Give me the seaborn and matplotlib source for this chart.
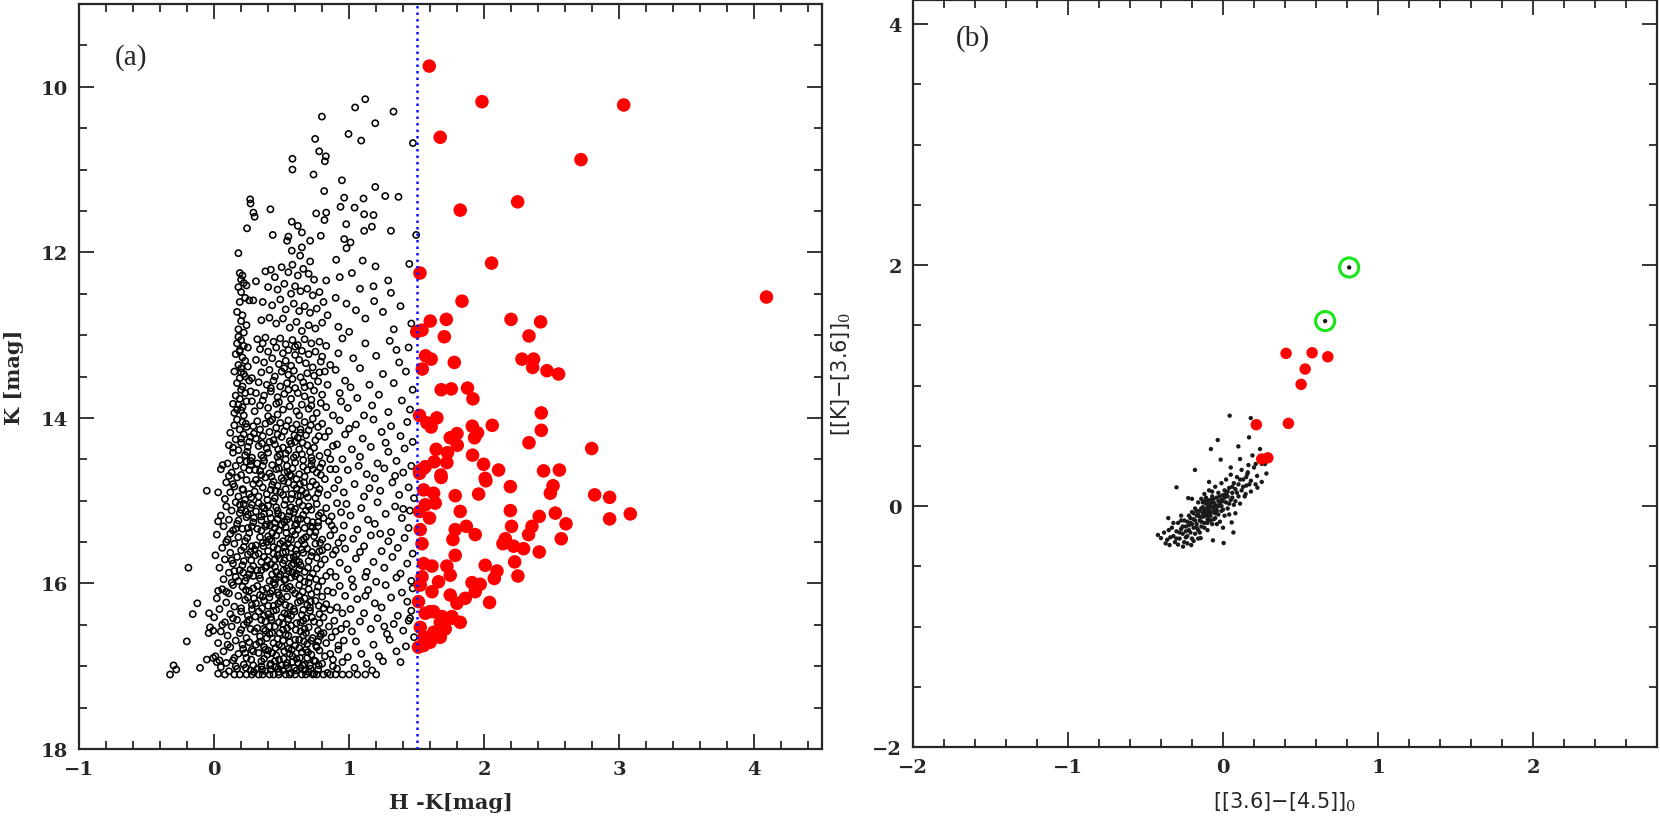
import numpy as np
import pandas as pd
import seaborn as sns
import matplotlib.pyplot as plt
from matplotlib.ticker import MultipleLocator

# ---- panel (a): H-K vs K, black field stars
field_top = [
    (1.044, 10.25), (1.119, 10.15), (1.328, 10.30), (0.798, 10.36), (1.193, 10.44), (0.995, 10.57),
    (1.089, 10.65), (1.472, 10.68), (0.748, 10.63), (0.778, 10.78), (0.827, 10.84), (0.58, 10.87),
    (0.58, 11.0), (0.82, 10.9), (0.736, 11.06), (0.946, 11.13), (0.815, 11.26), (1.193, 11.21),
    (1.106, 11.35), (0.963, 11.34), (1.267, 11.32), (1.365, 11.33), (0.267, 11.36), (0.27, 11.41),
    (0.291, 11.52), (0.30, 11.57), (0.417, 11.48), (0.244, 11.71), (0.18, 12.01), (0.936, 11.45),
    (1.04, 11.46), (1.111, 11.54), (1.18, 11.55), (0.756, 11.53), (0.83, 11.52), (0.817, 11.61),
    (0.575, 11.63), (0.62, 11.68), (0.978, 11.66), (1.111, 11.74), (1.168, 11.69), (1.309, 11.74),
    (1.496, 11.79), (0.434, 11.79), (0.54, 11.86), (0.55, 11.81), (0.65, 11.76), (0.65, 11.94),
    (0.711, 11.86), (0.79, 11.80), (0.963, 11.84), (1.01, 11.88), (0.98, 11.95), (0.575, 11.98),
    (0.637, 12.04), (0.711, 12.11), (0.904, 12.09), (1.10, 12.10), (1.195, 12.17), (1.445, 12.14),
]
field_12 = [
    (0.19, 12.25), (0.21, 12.28), (0.2, 12.33), (0.22, 12.37), (0.18, 12.42), (0.24, 12.40), (0.2, 12.48),
    (0.23, 12.55), (0.19, 12.6), (0.26, 12.58), (0.17, 12.72), (0.21, 12.76), (0.2, 12.83), (0.24, 12.88),
    (0.18, 12.93), (0.22, 12.97), (0.31, 12.35), (0.29, 12.58),
    (0.38, 12.23), (0.42, 12.21), (0.45, 12.3), (0.5, 12.18), (0.55, 12.24), (0.58, 12.15), (0.62, 12.28),
    (0.66, 12.2), (0.7, 12.26), (0.74, 12.33), (0.4, 12.42), (0.47, 12.45), (0.52, 12.38), (0.57, 12.5),
    (0.6, 12.41), (0.64, 12.47), (0.69, 12.44), (0.73, 12.52), (0.78, 12.48), (0.36, 12.6), (0.43, 12.64),
    (0.49, 12.57), (0.53, 12.69), (0.59, 12.62), (0.63, 12.71), (0.67, 12.65), (0.71, 12.73), (0.76, 12.68),
    (0.81, 12.6), (0.35, 12.82), (0.41, 12.79), (0.46, 12.86), (0.51, 12.8), (0.56, 12.91), (0.61, 12.84),
    (0.65, 12.95), (0.7, 12.88), (0.75, 12.92), (0.8, 12.85), (0.84, 12.76),
    (0.93, 12.3), (1.02, 12.25), (0.83, 12.34), (1.289, 12.34), (1.309, 12.49), (1.185, 12.59), (1.18, 12.41),
    (0.9, 12.55), (0.98, 12.62), (1.05, 12.7), (1.12, 12.8), (1.25, 12.72), (1.38, 12.65), (1.46, 12.86),
    (0.92, 12.9), (1.0, 12.96), (1.33, 12.93), (1.08, 12.44),
]
field_13 = [
    (0.18, 13.02), (0.2, 13.06), (0.17, 13.1), (0.22, 13.13), (0.19, 13.18), (0.25, 13.15), (0.16, 13.23),
    (0.21, 13.27), (0.23, 13.31), (0.18, 13.36), (0.2, 13.4), (0.15, 13.44), (0.22, 13.47), (0.19, 13.52),
    (0.26, 13.55), (0.17, 13.58), (0.21, 13.62), (0.2, 13.66), (0.23, 13.7), (0.16, 13.73), (0.19, 13.77),
    (0.24, 13.8), (0.18, 13.84), (0.21, 13.87), (0.2, 13.91), (0.15, 13.94), (0.22, 13.97), (0.27, 13.68),
    (0.25, 13.38), (0.14, 13.83),
    (0.32, 13.05), (0.38, 13.03), (0.44, 13.08), (0.49, 13.04), (0.53, 13.11), (0.58, 13.06), (0.62, 13.12),
    (0.67, 13.05), (0.72, 13.1), (0.78, 13.08), (0.83, 13.13), (0.34, 13.17), (0.4, 13.2), (0.46, 13.15),
    (0.51, 13.22), (0.55, 13.18), (0.6, 13.24), (0.65, 13.19), (0.7, 13.23), (0.75, 13.2), (0.8, 13.26),
    (0.31, 13.3), (0.37, 13.33), (0.43, 13.28), (0.48, 13.35), (0.53, 13.31), (0.57, 13.37), (0.63, 13.3),
    (0.68, 13.34), (0.73, 13.39), (0.79, 13.32), (0.86, 13.36), (0.35, 13.45), (0.41, 13.42), (0.45, 13.5),
    (0.5, 13.44), (0.55, 13.48), (0.59, 13.43), (0.64, 13.51), (0.69, 13.46), (0.74, 13.49), (0.82, 13.44),
    (0.33, 13.57), (0.39, 13.6), (0.44, 13.55), (0.49, 13.62), (0.54, 13.58), (0.6, 13.64), (0.66, 13.57),
    (0.71, 13.61), (0.77, 13.56), (0.84, 13.6), (0.31, 13.7), (0.37, 13.73), (0.42, 13.68), (0.47, 13.75),
    (0.52, 13.71), (0.57, 13.77), (0.62, 13.7), (0.67, 13.74), (0.72, 13.78), (0.8, 13.72), (0.34, 13.85),
    (0.4, 13.88), (0.46, 13.83), (0.51, 13.9), (0.56, 13.86), (0.61, 13.92), (0.65, 13.84), (0.7, 13.89),
    (0.76, 13.94), (0.83, 13.87), (0.88, 13.97),
    (0.95, 13.04), (1.12, 13.1), (1.3, 13.07), (1.44, 13.15), (0.92, 13.22), (1.03, 13.28), (1.2, 13.25),
    (1.37, 13.33), (0.9, 13.42), (1.08, 13.4), (1.25, 13.47), (1.42, 13.44), (0.97, 13.55), (1.15, 13.6),
    (1.33, 13.58), (1.47, 13.66), (0.93, 13.7), (1.06, 13.76), (1.22, 13.72), (1.39, 13.79), (0.99, 13.88),
    (1.17, 13.85), (1.29, 13.93), (1.45, 13.9), (1.01, 13.63), (1.35, 13.18), (1.11, 13.97), (0.94, 13.8),
]
field_14 = [
    (0.17, 14.02), (0.21, 14.05), (0.15, 14.09), (0.24, 14.11), (0.19, 14.14), (0.12, 14.18), (0.22, 14.2),
    (0.27, 14.23), (0.16, 14.26), (0.2, 14.3), (0.11, 14.33), (0.25, 14.35), (0.18, 14.39), (0.14, 14.42),
    (0.23, 14.45), (0.28, 14.48), (0.19, 14.51), (0.1, 14.55), (0.16, 14.58), (0.22, 14.6), (0.26, 14.63),
    (0.13, 14.66), (0.2, 14.69), (0.17, 14.72), (0.24, 14.75), (0.09, 14.78), (0.29, 14.8), (0.15, 14.83),
    (0.21, 14.86), (0.12, 14.9), (0.26, 14.92), (0.18, 14.95), (0.08, 14.98), (0.23, 14.99), (0.14, 14.36),
    (0.27, 14.57), (0.11, 14.7), (0.05, 14.62), (0.03, 14.9),
    (0.32, 14.04), (0.38, 14.07), (0.43, 14.02), (0.49, 14.06), (0.55, 14.03), (0.61, 14.08), (0.67, 14.05),
    (0.73, 14.01), (0.8, 14.07), (0.34, 14.14), (0.41, 14.17), (0.46, 14.12), (0.52, 14.16), (0.58, 14.13),
    (0.64, 14.18), (0.7, 14.15), (0.77, 14.11), (0.85, 14.16), (0.31, 14.25), (0.36, 14.22), (0.44, 14.27),
    (0.5, 14.23), (0.56, 14.28), (0.62, 14.24), (0.68, 14.21), (0.75, 14.27), (0.82, 14.23), (0.33, 14.34),
    (0.39, 14.37), (0.45, 14.32), (0.51, 14.36), (0.57, 14.31), (0.63, 14.38), (0.69, 14.33), (0.74, 14.36),
    (0.88, 14.34), (0.35, 14.45), (0.4, 14.42), (0.47, 14.47), (0.53, 14.43), (0.59, 14.48), (0.65, 14.44),
    (0.71, 14.41), (0.78, 14.46), (0.84, 14.42), (0.32, 14.55), (0.37, 14.52), (0.43, 14.57), (0.48, 14.53),
    (0.54, 14.58), (0.6, 14.54), (0.66, 14.51), (0.72, 14.57), (0.8, 14.55), (0.34, 14.64), (0.41, 14.67),
    (0.46, 14.62), (0.52, 14.66), (0.58, 14.61), (0.63, 14.68), (0.69, 14.63), (0.76, 14.66), (0.86, 14.62),
    (0.31, 14.75), (0.38, 14.72), (0.44, 14.77), (0.5, 14.73), (0.55, 14.78), (0.61, 14.74), (0.67, 14.71),
    (0.73, 14.77), (0.82, 14.74), (0.36, 14.84), (0.42, 14.87), (0.47, 14.82), (0.53, 14.86), (0.59, 14.81),
    (0.65, 14.88), (0.71, 14.83), (0.78, 14.86), (0.89, 14.85), (0.33, 14.95), (0.39, 14.92), (0.45, 14.97),
    (0.51, 14.93), (0.57, 14.98), (0.62, 14.94), (0.68, 14.91), (0.75, 14.97), (0.84, 14.93),
    (0.93, 14.03), (1.05, 14.08), (1.18, 14.02), (1.31, 14.1), (1.43, 14.05), (0.97, 14.2), (1.1, 14.25),
    (1.24, 14.17), (1.38, 14.22), (1.47, 14.29), (0.91, 14.32), (1.02, 14.38), (1.16, 14.35), (1.29, 14.41),
    (1.41, 14.37), (0.95, 14.5), (1.08, 14.47), (1.21, 14.55), (1.35, 14.52), (1.46, 14.58), (0.99, 14.63),
    (1.13, 14.68), (1.26, 14.61), (1.4, 14.66), (0.92, 14.75), (1.04, 14.8), (1.19, 14.73), (1.32, 14.78),
    (1.44, 14.84), (0.96, 14.9), (1.11, 14.95), (1.23, 14.88), (1.37, 14.93), (1.48, 14.97), (1.0, 14.13),
    (1.27, 14.3), (1.07, 14.58), (1.34, 14.7), (0.9, 14.62), (1.15, 14.85),
]
field_15 = [
    (0.16, 15.02), (0.22, 15.04), (0.09, 15.07), (0.27, 15.09), (0.13, 15.12), (0.19, 15.15), (0.05, 15.18),
    (0.24, 15.2), (0.11, 15.23), (0.29, 15.26), (0.17, 15.28), (0.07, 15.31), (0.21, 15.34), (0.14, 15.36),
    (0.26, 15.39), (0.02, 15.41), (0.18, 15.44), (0.1, 15.47), (0.23, 15.49), (0.15, 15.52), (0.28, 15.55),
    (0.06, 15.57), (0.2, 15.6), (0.12, 15.63), (0.25, 15.65), (0.17, 15.68), (0.08, 15.71), (0.22, 15.73),
    (0.14, 15.76), (0.29, 15.79), (0.04, 15.81), (0.19, 15.84), (0.11, 15.87), (0.26, 15.89), (0.16, 15.92),
    (0.07, 15.95), (0.23, 15.97), (0.13, 15.99), (0.2, 15.11), (0.25, 15.33), (0.09, 15.5), (0.27, 15.62),
    (0.15, 15.85), (0.01, 15.66), (0.24, 15.93), (0.12, 15.4), (0.18, 15.24), (0.21, 15.78), (0.03, 15.25),
    (0.33, 15.03), (0.4, 15.06), (0.44, 15.01), (0.52, 15.05), (0.57, 15.08), (0.63, 15.02), (0.7, 15.07),
    (0.76, 15.04), (0.83, 15.09), (0.91, 15.03), (0.31, 15.13), (0.37, 15.16), (0.47, 15.12), (0.5, 15.18),
    (0.59, 15.14), (0.66, 15.17), (0.72, 15.11), (0.79, 15.15), (0.87, 15.19), (0.94, 15.14), (0.35, 15.24),
    (0.42, 15.21), (0.45, 15.27), (0.54, 15.23), (0.61, 15.28), (0.64, 15.22), (0.73, 15.26), (0.81, 15.21),
    (0.85, 15.25), (0.39, 15.29), (0.32, 15.34), (0.38, 15.31), (0.48, 15.36), (0.53, 15.32), (0.58, 15.37),
    (0.67, 15.33), (0.71, 15.38), (0.77, 15.31), (0.89, 15.35), (0.43, 15.39), (0.34, 15.44), (0.41, 15.47),
    (0.46, 15.42), (0.55, 15.46), (0.6, 15.41), (0.65, 15.48), (0.74, 15.43), (0.8, 15.47), (0.86, 15.42),
    (0.51, 15.49), (0.31, 15.54), (0.36, 15.51), (0.44, 15.56), (0.49, 15.52), (0.57, 15.57), (0.62, 15.53),
    (0.69, 15.58), (0.75, 15.52), (0.84, 15.56), (0.92, 15.51), (0.33, 15.64), (0.4, 15.61), (0.47, 15.66),
    (0.53, 15.62), (0.59, 15.68), (0.66, 15.63), (0.72, 15.67), (0.78, 15.61), (0.88, 15.65), (0.56, 15.69),
    (0.35, 15.74), (0.42, 15.77), (0.45, 15.71), (0.51, 15.76), (0.61, 15.72), (0.64, 15.78), (0.7, 15.73),
    (0.79, 15.77), (0.82, 15.71), (0.93, 15.75), (0.32, 15.84), (0.38, 15.81), (0.46, 15.86), (0.54, 15.82),
    (0.58, 15.87), (0.63, 15.83), (0.73, 15.88), (0.76, 15.82), (0.86, 15.86), (0.49, 15.89), (0.34, 15.94),
    (0.41, 15.97), (0.48, 15.92), (0.52, 15.96), (0.6, 15.91), (0.67, 15.98), (0.71, 15.93), (0.8, 15.97),
    (0.9, 15.92), (0.44, 15.99), (0.37, 15.09), (0.55, 15.19), (0.68, 15.44), (0.47, 15.58), (0.63, 15.74),
    (0.39, 15.79), (0.57, 15.93), (0.75, 15.38), (0.69, 15.24), (0.5, 15.29),
    (0.98, 15.04), (1.09, 15.09), (1.21, 15.02), (1.34, 15.07), (1.45, 15.12), (1.01, 15.18), (1.14, 15.23),
    (1.27, 15.16), (1.39, 15.21), (0.96, 15.3), (1.06, 15.35), (1.19, 15.28), (1.31, 15.38), (1.44, 15.33),
    (1.03, 15.46), (1.16, 15.42), (1.29, 15.49), (1.41, 15.45), (0.97, 15.58), (1.11, 15.55), (1.24, 15.61),
    (1.36, 15.57), (1.47, 15.64), (1.05, 15.7), (1.18, 15.74), (1.32, 15.68), (1.43, 15.76), (0.99, 15.83),
    (1.13, 15.86), (1.26, 15.81), (1.38, 15.88), (1.02, 15.95), (1.2, 15.98), (1.35, 15.93), (1.46, 15.97),
    (1.08, 15.62), (1.23, 15.4), (1.4, 15.1), (1.12, 15.92), (0.95, 15.45),
]
field_16 = [
    (0.14, 16.02), (0.21, 16.04), (0.06, 16.07), (0.26, 16.09), (0.11, 16.12), (0.18, 16.15), (0.02, 16.18),
    (0.23, 16.2), (0.09, 16.23), (0.28, 16.26), (0.15, 16.28), (0.04, 16.31), (0.2, 16.34), (0.12, 16.37),
    (0.25, 16.39), (0.0, 16.41), (0.17, 16.44), (0.08, 16.47), (0.22, 16.5), (0.13, 16.52), (0.27, 16.55),
    (0.05, 16.58), (0.19, 16.6), (0.1, 16.63), (0.24, 16.66), (0.16, 16.69), (0.03, 16.72), (0.21, 16.74),
    (0.12, 16.77), (0.28, 16.8), (0.07, 16.82), (0.18, 16.85), (0.01, 16.88), (0.24, 16.9), (0.14, 16.93),
    (0.09, 16.96), (0.22, 16.98), (0.05, 17.01), (0.17, 17.03), (0.27, 17.05), (0.11, 17.06), (0.2, 16.3),
    (0.06, 16.5), (0.26, 16.71), (0.15, 16.9), (-0.04, 16.6), (0.02, 16.95),
    (0.32, 16.03), (0.39, 16.06), (0.45, 16.01), (0.51, 16.05), (0.58, 16.08), (0.63, 16.02), (0.7, 16.07),
    (0.77, 16.04), (0.84, 16.09), (0.93, 16.03), (0.34, 16.14), (0.41, 16.17), (0.47, 16.11), (0.54, 16.16),
    (0.6, 16.12), (0.67, 16.18), (0.72, 16.13), (0.8, 16.16), (0.88, 16.11), (0.97, 16.15), (0.31, 16.24),
    (0.37, 16.21), (0.44, 16.27), (0.49, 16.22), (0.56, 16.28), (0.62, 16.23), (0.69, 16.26), (0.75, 16.21),
    (0.83, 16.25), (0.91, 16.29), (0.33, 16.34), (0.4, 16.37), (0.46, 16.32), (0.52, 16.36), (0.59, 16.31),
    (0.65, 16.38), (0.71, 16.33), (0.78, 16.37), (0.86, 16.32), (0.95, 16.36), (0.35, 16.44), (0.42, 16.41),
    (0.48, 16.47), (0.55, 16.43), (0.61, 16.48), (0.68, 16.42), (0.74, 16.46), (0.81, 16.41), (0.89, 16.45),
    (0.98, 16.49), (0.32, 16.54), (0.38, 16.57), (0.45, 16.52), (0.51, 16.56), (0.57, 16.51), (0.64, 16.58),
    (0.7, 16.53), (0.77, 16.57), (0.85, 16.52), (0.94, 16.55), (0.34, 16.64), (0.41, 16.61), (0.47, 16.67),
    (0.53, 16.62), (0.6, 16.68), (0.66, 16.63), (0.73, 16.66), (0.79, 16.61), (0.87, 16.65), (0.96, 16.69),
    (0.31, 16.74), (0.37, 16.77), (0.44, 16.72), (0.5, 16.76), (0.56, 16.71), (0.63, 16.78), (0.69, 16.73),
    (0.76, 16.77), (0.83, 16.72), (0.92, 16.75), (0.33, 16.84), (0.4, 16.81), (0.46, 16.87), (0.52, 16.82),
    (0.58, 16.88), (0.65, 16.83), (0.72, 16.86), (0.78, 16.81), (0.86, 16.85), (0.99, 16.89), (0.35, 16.94),
    (0.42, 16.97), (0.48, 16.92), (0.54, 16.96), (0.61, 16.91), (0.67, 16.98), (0.74, 16.93), (0.8, 16.97),
    (0.88, 16.92), (0.95, 16.95), (0.32, 17.03), (0.38, 17.06), (0.45, 17.01), (0.51, 17.05), (0.57, 17.08),
    (0.64, 17.02), (0.7, 17.07), (0.77, 17.04), (0.84, 17.08), (0.91, 17.03),
    (1.03, 16.04), (1.14, 16.08), (1.27, 16.02), (1.39, 16.11), (1.47, 16.06), (1.06, 16.19), (1.19, 16.24),
    (1.31, 16.17), (1.43, 16.22), (1.01, 16.31), (1.11, 16.36), (1.24, 16.29), (1.36, 16.39), (1.46, 16.33),
    (1.08, 16.46), (1.21, 16.42), (1.33, 16.49), (1.44, 16.45), (1.02, 16.58), (1.16, 16.55), (1.28, 16.61),
    (1.4, 16.57), (1.05, 16.7), (1.18, 16.74), (1.3, 16.68), (1.42, 16.76), (1.09, 16.85), (1.22, 16.88),
    (1.35, 16.82), (1.13, 16.97), (1.25, 16.94), (1.04, 17.02), (1.17, 17.05), (1.48, 16.65), (1.38, 16.95),
    (1.45, 16.42), (1.12, 16.15), (1.26, 16.52),
]
field_core = [
    (0.27, 14.52), (0.36, 14.58), (0.48, 14.61), (0.56, 14.69), (0.43, 14.81), (0.3, 14.89), (0.64, 14.94),
    (0.53, 14.99), (0.28, 15.05), (0.46, 15.08), (0.6, 15.1), (0.35, 15.19), (0.52, 15.26), (0.28, 15.31),
    (0.62, 15.35), (0.4, 15.43), (0.57, 15.47), (0.3, 15.59), (0.51, 15.63), (0.65, 15.59), (0.37, 15.68),
    (0.59, 15.76), (0.45, 15.8), (0.29, 15.91), (0.61, 15.88), (0.53, 15.95), (0.29, 16.06), (0.43, 16.09),
    (0.56, 16.04), (0.36, 16.16), (0.5, 16.19), (0.64, 16.21), (0.28, 16.31), (0.44, 16.33), (0.57, 16.39),
    (0.38, 16.46), (0.51, 16.49), (0.66, 16.45), (0.3, 16.58), (0.43, 16.6), (0.55, 16.63), (0.68, 16.6),
    (0.35, 16.7), (0.48, 16.74), (0.6, 16.75), (0.29, 16.82), (0.43, 16.84), (0.56, 16.85), (0.69, 16.9),
    (0.37, 16.91), (0.5, 16.99), (0.62, 16.96), (0.29, 16.99), (0.42, 17.04), (0.55, 17.02), (0.67, 17.05),
    (0.26, 16.44), (0.72, 16.69), (0.75, 16.94), (0.71, 16.29),
]
field_fill = [
    (0.28, 13.52), (0.42, 13.64), (0.58, 13.53), (0.74, 13.67), (0.3, 13.92), (0.48, 13.81), (0.63, 13.97),
    (0.79, 13.82), (0.55, 13.66), (0.36, 13.79),
    (0.29, 14.1), (0.47, 14.2), (0.6, 14.29), (0.72, 14.48), (0.41, 14.29), (0.55, 14.39), (0.66, 14.59),
    (0.79, 14.69), (0.35, 14.69), (0.49, 14.9), (0.61, 14.85), (0.73, 14.62), (0.26, 14.29), (0.53, 14.5),
    (0.64, 14.14), (0.57, 14.7), (0.86, 14.5), (0.77, 14.91),
    (0.41, 15.15), (0.56, 15.13), (0.68, 15.12), (0.47, 15.22), (0.62, 15.23), (0.77, 15.26), (0.35, 15.36),
    (0.45, 15.33), (0.6, 15.3), (0.73, 15.32), (0.39, 15.5), (0.52, 15.55), (0.67, 15.53), (0.8, 15.6),
    (0.44, 15.64), (0.61, 15.65), (0.76, 15.69), (0.35, 15.84), (0.52, 15.72), (0.67, 15.86), (0.83, 15.91),
    (0.43, 15.89), (0.55, 15.85), (0.7, 15.99), (0.9, 15.6), (0.87, 15.3),
    (0.36, 16.08), (0.48, 16.14), (0.63, 16.15), (0.76, 16.1), (0.4, 16.27), (0.53, 16.26), (0.66, 16.32),
    (0.81, 16.3), (0.37, 16.39), (0.5, 16.41), (0.64, 16.47), (0.78, 16.48), (0.41, 16.52), (0.54, 16.54),
    (0.67, 16.55), (0.81, 16.6), (0.39, 16.66), (0.51, 16.69), (0.63, 16.68), (0.77, 16.7), (0.38, 16.8),
    (0.55, 16.79), (0.68, 16.8), (0.82, 16.88), (0.45, 16.94), (0.58, 16.95), (0.71, 16.99), (0.35, 17.0),
    (0.48, 17.07), (0.61, 17.05), (0.74, 17.09), (0.88, 17.0), (0.92, 16.8), (0.9, 16.58),
    (0.19, 13.2), (0.23, 13.5), (0.17, 13.9), (0.2, 14.25), (0.24, 14.53), (0.14, 14.8), (0.19, 15.05),
    (0.25, 15.17), (0.16, 15.34), (0.22, 15.56), (0.13, 15.72), (0.27, 15.83), (0.18, 15.97), (0.09, 16.1),
    (0.25, 16.17), (0.14, 16.42), (0.2, 16.56), (0.1, 16.74), (0.23, 16.84), (0.16, 17.0),
]
field_dense = [
    (0.235, 14.07), (0.295, 14.19), (0.355, 14.31), (0.415, 14.04), (0.475, 14.38), (0.535, 14.1),
    (0.595, 14.21), (0.655, 14.3), (0.715, 14.09), (0.775, 14.22), (0.245, 14.41), (0.305, 14.63),
    (0.365, 14.48), (0.425, 14.71), (0.485, 14.44), (0.545, 14.65), (0.605, 14.45), (0.665, 14.78),
    (0.725, 14.52), (0.785, 14.6), (0.215, 14.87), (0.275, 14.96), (0.335, 14.79), (0.395, 14.99),
    (0.455, 14.88), (0.515, 14.76), (0.575, 14.92), (0.635, 14.8), (0.695, 14.96), (0.755, 14.81),
    (0.235, 15.13), (0.295, 15.21), (0.355, 15.07), (0.415, 15.3), (0.475, 15.16), (0.535, 15.39),
    (0.595, 15.22), (0.655, 15.06), (0.715, 15.31), (0.775, 15.18), (0.245, 15.45), (0.305, 15.66),
    (0.365, 15.55), (0.425, 15.49), (0.485, 15.7), (0.545, 15.52), (0.605, 15.6), (0.665, 15.46),
    (0.725, 15.62), (0.785, 15.51), (0.215, 15.87), (0.275, 15.72), (0.335, 15.9), (0.395, 15.72),
    (0.455, 15.95), (0.515, 15.84), (0.575, 15.78), (0.635, 15.94), (0.695, 15.81), (0.755, 15.95),
    (0.235, 16.08), (0.295, 16.18), (0.355, 16.3), (0.415, 16.12), (0.475, 16.24), (0.535, 16.06),
    (0.595, 16.34), (0.655, 16.1), (0.715, 16.22), (0.775, 16.27), (0.245, 16.47), (0.305, 16.4),
    (0.365, 16.55), (0.425, 16.44), (0.485, 16.6), (0.545, 16.37), (0.605, 16.56), (0.665, 16.7),
    (0.725, 16.41), (0.785, 16.64), (0.215, 16.79), (0.275, 16.92), (0.335, 16.71), (0.395, 16.86),
    (0.455, 16.78), (0.515, 16.91), (0.575, 16.8), (0.635, 16.9), (0.695, 16.83), (0.755, 16.75),
    (0.235, 17.02), (0.295, 17.07), (0.355, 17.04), (0.415, 16.99), (0.475, 17.03), (0.535, 16.99),
    (0.595, 17.02), (0.655, 16.99), (0.715, 17.03), (0.775, 16.99),
    (0.2, 13.45), (0.28, 13.8), (0.47, 13.96), (0.36, 13.1), (0.6, 13.14), (0.52, 13.4), (0.67, 13.63),
    (0.78, 13.45), (0.4, 13.98), (0.72, 13.85),
]
field_floor = [
    (0.03, 17.09), (0.08, 17.1), (0.15, 17.1), (0.19, 17.1), (0.24, 17.1), (0.28, 17.1), (0.33, 17.1),
    (0.36, 17.1), (0.41, 17.1), (0.44, 17.1), (0.48, 17.1), (0.53, 17.1), (0.56, 17.1), (0.6, 17.1),
    (0.65, 17.1), (0.68, 17.1), (0.73, 17.1), (0.76, 17.1), (0.81, 17.1), (0.86, 17.1), (0.9, 17.1),
    (0.95, 17.1), (1.0, 17.1), (1.06, 17.1), (1.12, 17.1), (1.2, 17.1),
]
field_blue_side = [
    (-0.326, 17.1), (-0.30, 16.99), (-0.28, 17.04), (-0.202, 16.7), (-0.19, 15.81), (-0.054, 14.88),
    (-0.158, 16.37), (-0.124, 16.24), (-0.037, 16.36), (-0.104, 17.02), (-0.054, 16.92), (-0.007, 16.9),
    (0.03, 16.09), (0.064, 14.57), (-0.03, 16.53), (-0.007, 16.57), (0.04, 16.93),
]

# red: candidate YSOs with H-K > 1.5
yso_hk = [1.593, 1.983, 3.032, 1.674, 2.716, 2.247, 1.822, 2.054, 1.524, 1.835, 4.089, 2.198, 2.417, 2.331,
          1.60, 1.719, 1.539, 1.50, 1.704, 1.565, 1.607, 1.778, 1.541, 2.279, 2.365, 2.358, 2.464, 2.55,
          1.681, 1.756, 1.876, 1.916, 1.521, 1.575, 1.649, 1.607, 2.422, 1.911, 1.95, 2.059, 1.928, 2.422,
          1.748, 1.798, 1.80, 2.331, 2.795, 1.644, 1.728, 1.913, 1.723, 1.63, 1.995, 2.106, 2.439, 2.556,
          1.563, 1.52, 2.007, 1.679, 1.551, 1.521, 1.681, 2.012, 2.193, 2.509, 2.489, 2.817, 2.928, 3.081,
          2.928, 1.551, 1.625, 1.637, 1.563, 1.785, 1.958, 1.521, 1.595, 1.822, 2.193, 2.407, 2.526, 2.605,
          2.202, 2.353, 2.328, 2.57, 1.526, 1.539, 1.785, 1.867, 1.933, 1.768, 2.156, 2.138, 2.217, 2.291,
          2.407, 1.785, 2.225, 1.551, 1.613, 1.723, 2.007, 2.094, 2.074, 2.249, 1.748, 1.539, 1.661, 1.526,
          1.909, 1.970, 1.933, 1.613, 1.748, 1.859, 2.039, 1.798, 1.513, 1.60, 1.687, 1.761, 1.625, 1.563,
          1.761, 1.822, 1.674, 1.526, 1.711, 1.625, 1.551, 1.674, 1.60, 1.513, 1.551]
yso_k = [9.75, 10.18, 10.22, 10.61, 10.88, 11.39, 11.49, 12.13, 12.25, 12.59, 12.54, 12.81, 12.84, 13.01,
         12.83, 12.81, 12.94, 12.96, 13.02, 13.25, 13.29, 13.33, 13.41, 13.29, 13.29, 13.39, 13.43, 13.47,
         13.66, 13.65, 13.64, 13.77, 13.97, 14.06, 14.0, 14.11, 13.94, 14.10, 14.18, 14.09, 14.24, 14.15,
         14.24, 14.19, 14.33, 14.30, 14.37, 14.38, 14.42, 14.45, 14.54, 14.53, 14.56, 14.63, 14.64, 14.63,
         14.59, 14.64, 14.73, 14.69, 14.61, 14.67, 14.72, 14.76, 14.83, 14.82, 14.91, 14.93, 14.96, 15.16,
         15.22, 14.87, 14.91, 15.03, 15.05, 14.94, 14.92, 15.13, 15.21, 15.13, 15.12, 15.19, 15.15, 15.28,
         15.31, 15.31, 15.41, 15.46, 15.35, 15.52, 15.35, 15.31, 15.41, 15.47, 15.46, 15.52, 15.55, 15.58,
         15.62, 15.66, 15.74, 15.76, 15.79, 15.79, 15.78, 15.85, 15.94, 15.91, 15.90, 15.92, 15.98, 16.02,
         15.99, 16.01, 16.10, 16.10, 16.14, 16.18, 16.23, 16.24, 16.22, 16.34, 16.40, 16.40, 16.34, 16.36,
         16.42, 16.47, 16.47, 16.53, 16.55, 16.59, 16.65, 16.65, 16.71, 16.77, 16.75]

# ---- panel (b): colour-colour diagram
cc_field = [
    (0.043, 0.75), (0.179, 0.73), (0.168, 0.57), (-0.034, 0.548), (-0.078, 0.473), (0.099, 0.495),
    (0.239, 0.473), (-0.015, 0.385), (0.11, 0.39), (0.164, 0.34), (0.211, 0.349), (0.271, 0.349),
    (-0.181, 0.30), (0.28, 0.27), (0.157, 0.266), (-0.30, 0.155), (0.222, 0.152), (0.146, 0.10),
    (-0.224, 0.066), (0.056, -0.136), (0.067, -0.219), (-0.065, -0.285), (0.004, -0.307), (-0.353, -0.10),
    (-0.40, -0.266), (-0.345, -0.324), (-0.258, -0.337), (-0.205, -0.324), (-0.144, -0.266),
    (-0.38, -0.22), (-0.36, -0.28), (-0.33, -0.18), (-0.32, -0.25), (-0.31, -0.3), (-0.3, -0.21),
    (-0.29, -0.14), (-0.28, -0.27), (-0.27, -0.19), (-0.26, -0.23), (-0.25, -0.12), (-0.25, -0.3),
    (-0.24, -0.17), (-0.23, -0.25), (-0.22, -0.08), (-0.22, -0.2), (-0.21, -0.14), (-0.2, -0.27),
    (-0.2, -0.05), (-0.19, -0.18), (-0.19, -0.11), (-0.18, -0.23), (-0.18, -0.02), (-0.17, -0.15),
    (-0.17, -0.08), (-0.16, -0.2), (-0.16, 0.03), (-0.15, -0.12), (-0.15, -0.04), (-0.14, -0.17),
    (-0.14, 0.06), (-0.13, -0.09), (-0.13, -0.01), (-0.12, -0.14), (-0.12, 0.1), (-0.11, -0.06),
    (-0.11, 0.02), (-0.1, -0.11), (-0.1, -0.2), (-0.1, 0.05), (-0.09, -0.03), (-0.09, 0.13),
    (-0.08, -0.08), (-0.08, 0.0), (-0.07, -0.15), (-0.07, 0.08), (-0.06, -0.05), (-0.06, 0.03),
    (-0.05, -0.1), (-0.05, 0.16), (-0.04, -0.01), (-0.04, 0.07), (-0.03, -0.07), (-0.03, 0.11),
    (-0.02, 0.02), (-0.02, -0.13), (-0.01, 0.05), (-0.01, 0.19), (0.0, -0.03), (0.0, 0.09), (0.01, 0.13),
    (0.01, -0.08), (0.02, 0.03), (0.02, 0.22), (0.03, 0.08), (0.03, -0.02), (0.04, 0.15), (0.05, 0.05),
    (0.05, 0.26), (0.06, 0.11), (0.07, 0.19), (0.07, 0.01), (0.08, 0.14), (0.09, 0.24), (0.1, 0.08),
    (0.1, 0.18), (0.12, 0.3), (0.12, 0.13), (0.13, 0.22), (0.15, 0.17), (0.16, 0.28), (0.18, 0.21),
    (0.2, 0.32), (0.22, 0.25), (0.25, 0.2),
    (-0.12, -0.04), (-0.1, -0.01), (-0.08, -0.05), (-0.06, -0.02), (-0.11, -0.08), (-0.09, 0.02),
    (-0.07, 0.03), (-0.13, -0.06), (-0.15, -0.09), (-0.05, 0.01), (-0.04, -0.04), (-0.14, -0.02),
    (-0.16, -0.07), (-0.12, 0.04), (-0.08, 0.05), (-0.18, -0.12), (-0.2, -0.15), (-0.22, -0.16),
    (-0.24, -0.21), (-0.03, 0.04), (-0.1, -0.14), (-0.06, -0.11), (-0.17, -0.04), (-0.02, 0.08),
    (0.0, 0.04), (-0.13, 0.03), (-0.09, -0.09), (-0.26, -0.17), (-0.28, -0.22), (-0.3, -0.27),
    (-0.34, -0.26), (-0.21, -0.1), (-0.19, -0.06), (-0.07, -0.01), (-0.11, -0.03), (0.02, 0.1),
    (0.04, 0.02), (0.06, 0.07), (-0.01, 0.0), (-0.05, -0.06),
    (-0.42, -0.24), (-0.37, -0.31), (-0.23, -0.31), (-0.16, -0.27), (0.11, 0.02), (0.14, 0.08),
    (0.18, 0.12), (0.21, 0.18), (-0.2, 0.06), (-0.27, -0.08), (0.08, -0.06), (0.0, -0.18), (-0.09, 0.2),
    (0.05, 0.32), (0.25, 0.35), (0.19, 0.42), (0.814, 1.98), (0.659, 1.535),
    (-0.35, -0.2), (-0.32, -0.14), (-0.29, -0.32), (-0.27, -0.12), (-0.24, -0.26), (-0.23, -0.13),
    (-0.21, -0.22), (-0.19, -0.29), (-0.17, -0.18), (-0.15, -0.22), (-0.14, -0.13), (-0.12, -0.18),
    (-0.11, 0.07), (-0.1, -0.06), (-0.08, -0.12), (-0.07, 0.12), (-0.06, 0.06), (-0.04, -0.15),
    (-0.03, 0.0), (-0.01, -0.04), (0.01, 0.07), (0.03, 0.12), (0.04, -0.07), (0.06, 0.16),
    (0.08, 0.04), (0.09, 0.11), (0.11, 0.22), (0.13, 0.16), (0.15, 0.24), (0.17, 0.18),
]
cc_red_x = [0.407, 0.575, 0.676, 0.530, 0.504, 0.215, 0.422, 0.250, 0.289]
cc_red_y = [1.267, 1.272, 1.239, 1.137, 1.010, 0.675, 0.686, 0.390, 0.400]
cc_green_x = [0.814, 0.659]
cc_green_y = [1.980, 1.535]

hk_cut = 1.5

field = pd.DataFrame(field_top + field_12 + field_13 + field_14 + field_15 + field_16
                     + field_core + field_fill + field_dense + field_floor + field_blue_side,
                     columns=['hk', 'k'])
yso = pd.DataFrame({'hk': yso_hk, 'k': yso_k})
cc = pd.DataFrame(cc_field, columns=['c1', 'c2'])
cc_red = pd.DataFrame({'c1': cc_red_x, 'c2': cc_red_y})
cc_green = pd.DataFrame({'c1': cc_green_x, 'c2': cc_green_y})

sns.set_style('ticks')
plt.rcParams['font.family'] = ['DejaVu Serif']
plt.rcParams['mathtext.fontset'] = 'dejavuserif'

fig = plt.figure(figsize=(16.6, 8.28), dpi=100)
ax1 = fig.add_axes([79 / 1660, 78 / 828, 743 / 1660, 745 / 828])
ax2 = fig.add_axes([913 / 1660, 80 / 828, 744 / 1660, 747 / 828])

# (a) CMD
sns.scatterplot(data=field, x='hk', y='k', ax=ax1, marker='o', s=20,
                facecolor='none', edgecolor='black', linewidth=1.15, legend=False)
sns.scatterplot(data=yso, x='hk', y='k', ax=ax1, marker='o', s=95,
                color='#ff0000', edgecolor='none', linewidth=0, legend=False, zorder=3)
ax1.axvline(hk_cut, color='#1010ff', linestyle=(0, (1, 1.6)), linewidth=1.8, zorder=4)
ax1.set_xlim(-1, 4.5)
ax1.set_ylim(18, 9)
ax1.xaxis.set_major_locator(MultipleLocator(1))
ax1.xaxis.set_minor_locator(MultipleLocator(0.2))
ax1.yaxis.set_major_locator(MultipleLocator(2))
ax1.yaxis.set_minor_locator(MultipleLocator(0.5))
ax1.set_xlabel('H -K[mag]', fontsize=15, fontweight='bold', labelpad=10)
ax1.set_ylabel('K [mag]', fontsize=15, fontweight='bold', labelpad=12)
ax1.text(0.048, 0.93, '(a)', transform=ax1.transAxes, fontsize=21,
         family='Liberation Serif', va='center', ha='left')

# (b) colour-colour
sns.scatterplot(data=cc, x='c1', y='c2', ax=ax2, marker='o', s=10,
                color='#1a1a1a', edgecolor='none', linewidth=0, legend=False)
sns.scatterplot(data=cc_red, x='c1', y='c2', ax=ax2, marker='o', s=68,
                color='#ff0000', edgecolor='none', linewidth=0, legend=False, zorder=3)
sns.scatterplot(data=cc_green, x='c1', y='c2', ax=ax2, marker='o', s=190,
                facecolor='none', edgecolor='#19e619', linewidth=2.2, legend=False, zorder=4)
ax2.set_xlim(-2, 2.8)
ax2.set_ylim(-2, 4.2)
ax2.xaxis.set_major_locator(MultipleLocator(1))
ax2.xaxis.set_minor_locator(MultipleLocator(0.2))
ax2.yaxis.set_major_locator(MultipleLocator(2))
ax2.yaxis.set_minor_locator(MultipleLocator(0.5))
ax2.set_xlabel('[[3.6]\u2212[4.5]]$_0$', fontsize=15, family='DejaVu Sans', labelpad=10)
ax2.set_ylabel('[[K]\u2212[3.6]]$_0$', fontsize=15, family='DejaVu Sans', labelpad=14)
ax2.text(0.058, 0.95, '(b)', transform=ax2.transAxes, fontsize=21,
         family='Liberation Serif', va='center', ha='left')

for ax in (ax1, ax2):
    for sp in ax.spines.values():
        sp.set_visible(True)
        sp.set_linewidth(1.6)
    ax.tick_params(which='both', direction='in', top=True, right=True, width=1.3)
    ax.tick_params(which='major', length=11, labelsize=14, pad=8)
    ax.tick_params(which='minor', length=5.5)
    for lab in ax.get_xticklabels() + ax.get_yticklabels():
        lab.set_fontweight('bold')

fig.savefig('out.png', dpi=100)
